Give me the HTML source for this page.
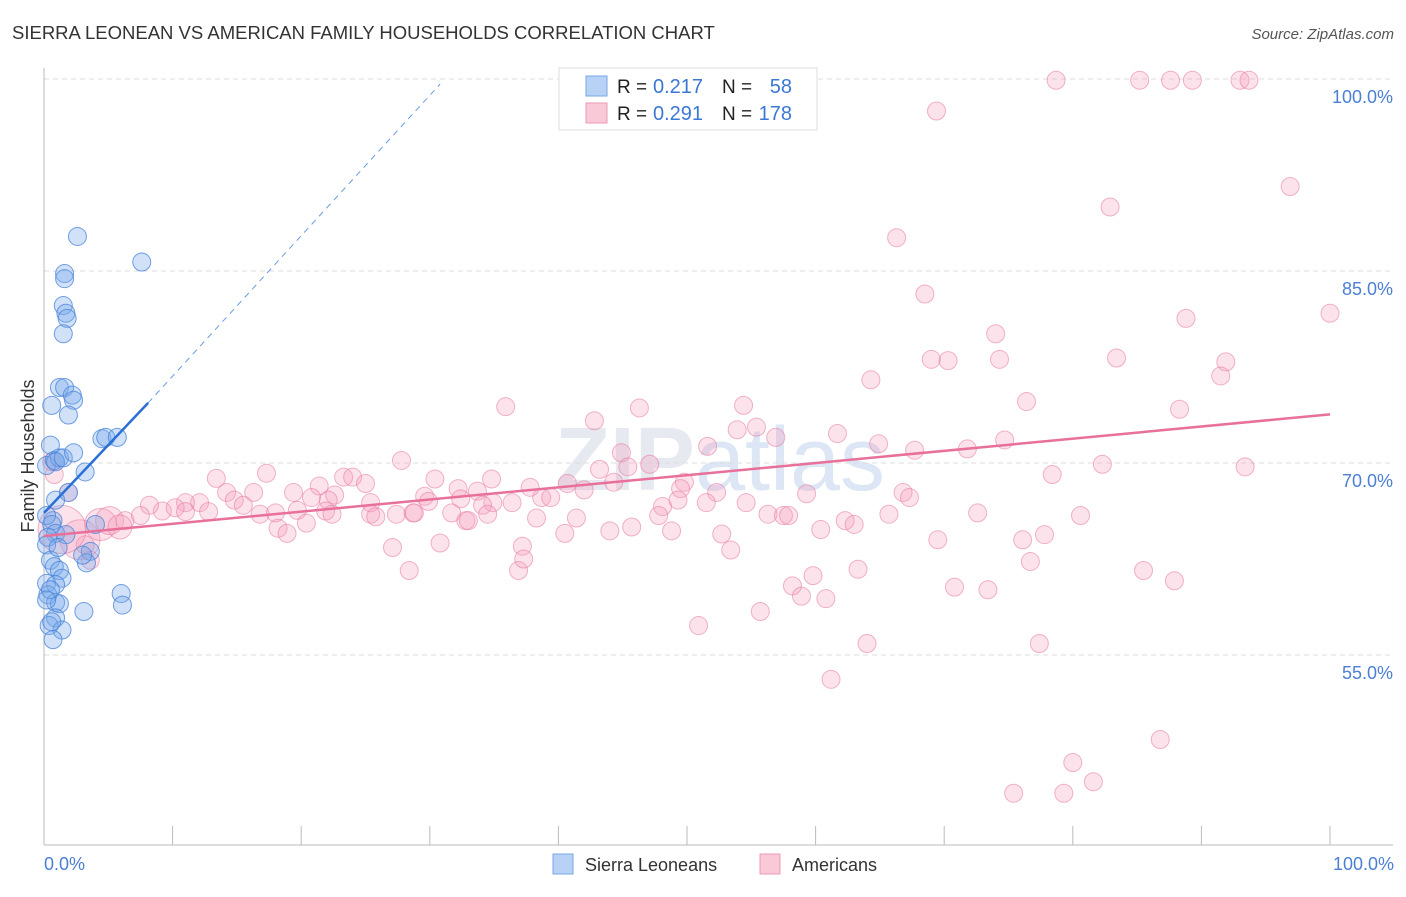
<!DOCTYPE html>
<html><head><meta charset="utf-8"><style>
body{margin:0;background:#fff;font-family:"Liberation Sans",sans-serif;}
svg text{font-family:"Liberation Sans",sans-serif;}
</style></head><body>
<svg id="chart" width="1406" height="892">
<text x="12" y="39" font-size="18.5" fill="#333">SIERRA LEONEAN VS AMERICAN FAMILY HOUSEHOLDS CORRELATION CHART</text>
<text x="1394" y="39" font-size="15" fill="#555" font-style="italic" text-anchor="end">Source: ZipAtlas.com</text>
<text x="720" y="490" font-size="90" fill="#e6e9ef" text-anchor="middle" font-weight="bold">ZIP<tspan fill="#dce6f5" font-weight="normal">atlas</tspan></text>
<g id="grid"></g><g id="axes"></g><g id="pts"></g><g id="trend"></g>
<text transform="translate(34,456) rotate(-90)" font-size="18" fill="#333" text-anchor="middle">Family Households</text>
<text x="44" y="870" font-size="18" fill="#4a7fd4">0.0%</text>
<text x="1394" y="870" font-size="18" fill="#4a7fd4" text-anchor="end">100.0%</text>
<g>
<rect x="553" y="854" width="20" height="20" fill="#b8d2f5" stroke="#7aa6e6"/>
<text x="585" y="871" font-size="18" fill="#333">Sierra Leoneans</text>
<rect x="760" y="854" width="20" height="20" fill="#f9c9d8" stroke="#ec9ab5"/>
<text x="792" y="871" font-size="18" fill="#333">Americans</text>
</g>
<g>
<rect x="559" y="68" width="258" height="62" fill="#fff" stroke="#ddd"/>
<rect x="586" y="76" width="21" height="20" fill="#b8d2f5" stroke="#7aa6e6"/>
<rect x="586" y="103" width="21" height="20" fill="#f9c9d8" stroke="#ec9ab5"/>
<text x="617" y="93" font-size="19" fill="#222">R =</text>
<text x="653" y="93" font-size="20" fill="#3a78d4">0.217</text>
<text x="722" y="93" font-size="19" fill="#222">N =</text>
<text x="792" y="93" font-size="20" fill="#3a78d4" text-anchor="end">58</text>
<text x="617" y="120" font-size="19" fill="#222">R =</text>
<text x="653" y="120" font-size="20" fill="#3a78d4">0.291</text>
<text x="722" y="120" font-size="19" fill="#222">N =</text>
<text x="792" y="120" font-size="20" fill="#3a78d4" text-anchor="end">178</text>
</g>
</svg>
<script>
const yTicks=[100,85,70,55];
const yTickLabels=["100.0%","85.0%","70.0%","55.0%"];
const xTicks=[0,10,20,30,40,50,60,70,80,90,100];
const blueX=[2.6,7.6,1.6,1.6,1.5,1.7,1.8,1.5,1.2,1.6,2.2,2.3,1.9,0.6,0.5,4.5,4.8,5.7,3.2,0.2,0.8,1.2,0.9,1.5,2.3,1.9,0.9,0.7,0.2,0.6,0.9,0.3,0.2,4.0,3.6,3.3,3.0,0.5,0.8,1.2,1.4,0.2,0.9,6.0,6.1,3.1,0.3,0.9,1.2,0.9,0.4,1.4,0.7,1.7,1.1,0.5,0.2,0.6];
const blueY=[87.7,85.7,84.8,84.4,82.3,81.7,81.3,80.1,75.9,75.9,75.3,74.9,73.75,74.5,71.4,71.9,72.0,72.0,69.3,69.8,70.2,70.4,70.1,70.4,70.8,67.7,67.1,65.5,65.9,65.2,64.5,64.2,63.6,65.2,63.1,62.2,62.8,62.4,61.9,61.6,61.0,60.6,60.5,59.8,58.9,58.4,59.7,59.1,59.0,57.9,57.3,56.95,56.2,64.4,63.4,60.1,59.3,57.6];
const pinkX=[78.7,85.2,87.6,89.3,93.0,93.7,69.4,96.9,82.9,66.3,68.5,100,88.8,74.0,69.0,70.3,74.3,83.4,91.9,91.5,64.3,35.9,46.3,54.4,88.3,76.4,42.8,53.9,55.4,56.9,61.7,64.9,74.7,67.7,71.8,51.6,44.9,27.8,47.1,45.4,82.3,93.4,78.4,43.2,34.8,30.4,13.4,17.3,23.3,24.0,25.0,21.4,37.8,40.7,32.2,33.7,14.2,16.3,19.4,20.8,22.6,38.7,39.4,42.0,44.3,49.8,49.5,52.3,59.3,66.8,67.3,54.6,51.5,48.1,49.3,29.6,29.9,32.4,34.9,36.4,25.4,22.1,14.8,15.5,12.1,11.0,9.2,8.2,10.2,11.0,12.8,16.8,18.0,19.7,21.9,22.4,25.4,25.8,27.4,28.7,31.7,34.1,34.5,38.3,28.8,32.8,47.8,56.3,57.5,57.9,65.7,72.6,80.6,62.3,63.0,18.2,18.9,20.4,41.4,30.8,27.1,33.0,37.2,40.5,44.0,45.7,48.8,52.7,60.4,53.4,69.5,76.1,77.8,76.7,63.3,85.5,87.9,28.4,36.9,37.3,58.2,58.9,59.8,60.8,70.8,73.4,55.7,50.9,77.4,64.0,61.2,86.8,80.0,81.6,75.4,79.3,0.6,0.8,1.9,2.8,4.4,5.1,6.3,7.5,3.6,3.2,5.9,1.4];
const pinkY=[99.9,99.9,99.9,99.9,99.9,99.9,97.5,91.6,90.0,87.6,83.2,81.7,81.3,80.1,78.1,78.0,78.1,78.2,77.9,76.8,76.5,74.4,74.3,74.5,74.2,74.8,73.3,72.6,72.8,72.0,72.3,71.5,71.8,71.0,71.1,71.3,70.8,70.2,69.9,69.7,69.9,69.7,69.1,69.5,68.75,68.75,68.8,69.2,68.9,68.9,68.4,68.2,68.1,68.4,68.0,67.8,67.7,67.7,67.7,67.3,67.5,67.3,67.3,67.9,68.5,68.5,68.0,67.7,67.6,67.7,67.3,66.9,66.9,66.6,67.1,67.4,67.0,67.2,66.9,66.9,66.9,67.1,67.1,66.7,66.9,66.9,66.25,66.7,66.5,66.2,66.2,66.0,66.1,66.3,66.25,66.0,66.0,65.8,66.0,66.1,66.1,66.7,66.0,65.7,66.1,65.5,65.9,66.0,65.9,65.9,66.0,66.1,65.9,65.5,65.2,64.9,64.5,65.3,65.7,63.75,63.4,65.5,63.5,64.5,64.7,65.0,64.7,64.45,64.8,63.2,64.0,64.0,64.4,62.3,61.7,61.6,60.8,61.6,61.6,62.5,60.4,59.6,61.2,59.4,60.3,60.1,58.4,57.3,55.9,55.9,53.1,48.4,46.6,45.1,44.2,44.2,70.1,69.1,67.7,64.0,65.2,65.5,65.5,65.9,62.4,63.6,65.0,64.8];
const pinkR=[];for(let i=0;i<pinkX.length;i++)pinkR.push(9);
pinkR[pinkR.length-1]=24;pinkR[pinkR.length-9]=20;pinkR[pinkR.length-8]=16;pinkR[pinkR.length-7]=14;pinkR[pinkR.length-2]=12;
const blueTrend=[[0,66.1],[8.1,74.7]];
const blueDash=[[8.1,74.7],[30.8,99.6]];
const pinkTrend=[[0,64.3],[100,73.8]];
const X=v=>44+v*12.86, Y=v=>79+(100-v)*12.8;
const NS="http://www.w3.org/2000/svg";
function mk(t,a,p){const e=document.createElementNS(NS,t);for(const k in a)e.setAttribute(k,a[k]);document.getElementById(p).appendChild(e);return e;}
yTicks.forEach((t,i)=>{
 const g=mk('line',{x1:44,x2:1393,y1:Y(t),y2:Y(t),stroke:'#ddd','stroke-dasharray':'5,4'},'grid');
 
 
 const l=mk('text',{x:1393,y:Y(t)+24,'font-size':18,fill:'#4a7fd4','text-anchor':'end'},'grid');
 l.textContent=yTickLabels[i];
 
 
});
const ax=mk('line',{x1:44,x2:1393,y1:845,y2:845,stroke:'#bbb'},'axes');


const ay=mk('line',{x1:44,x2:44,y1:68,y2:845,stroke:'#bbb'},'axes');


xTicks.forEach(t=>{const e=mk('line',{x1:X(t),x2:X(t),y1:826,y2:845,stroke:'#bbb'},'axes');
 
 });
pinkX.forEach((x,i)=>{const c=mk('circle',{cx:X(x),cy:Y(pinkY[i]),r:pinkR[i],fill:'rgba(244,160,188,0.3)',stroke:'rgba(230,120,160,0.55)','stroke-width':1},'pts');
 
 });
blueX.forEach((x,i)=>{const c=mk('circle',{cx:X(x),cy:Y(blueY[i]),r:9,fill:'rgba(120,170,235,0.35)',stroke:'rgba(70,130,215,0.75)','stroke-width':1},'pts');
 
 });
function ln(p,st,w,d,name){const e=mk('line',{x1:X(p[0][0]),y1:Y(p[0][1]),x2:X(p[1][0]),y2:Y(p[1][1]),stroke:st,'stroke-width':w},'trend');if(d)e.setAttribute('stroke-dasharray',d);
 
 }
ln(pinkTrend,'#e8709a',2.5,null,'american-trendline');
ln(blueTrend,'#2a6fd6',2.5,null,'sierra-trendline');
ln(blueDash,'#6a9be0',1,'6,5','sierra-trendline-extension');
</script>
</body></html>
